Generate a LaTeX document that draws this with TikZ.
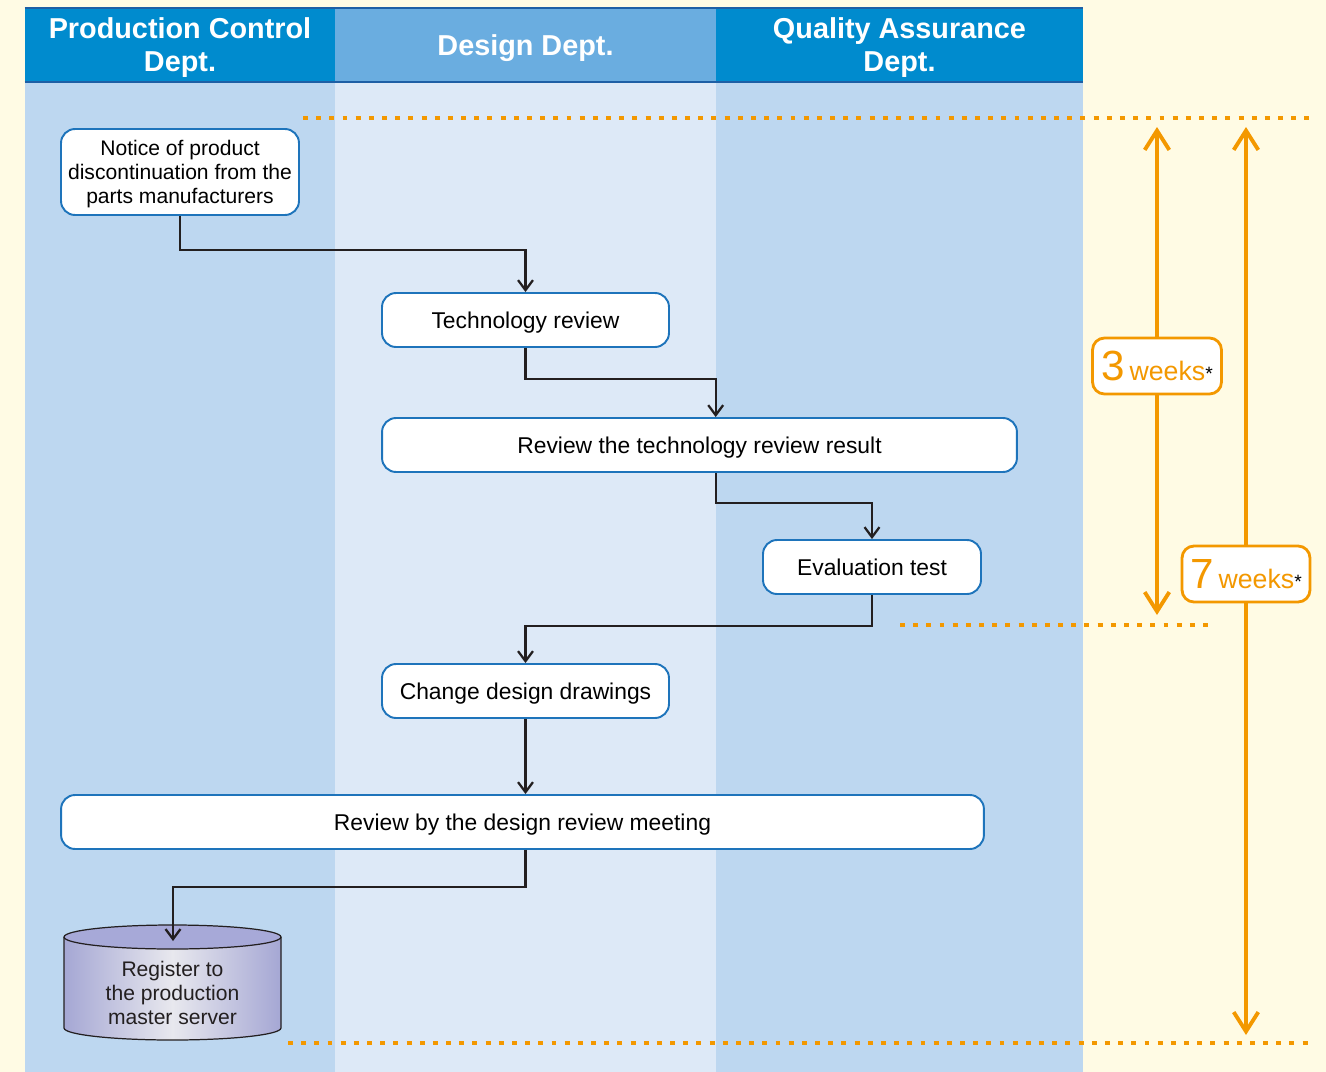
\documentclass[tikz,border=0pt]{standalone}
\usepackage{fontspec}
\setmainfont{Liberation Sans}
\usetikzlibrary{arrows.meta,calc}

\definecolor{bgcream}{HTML}{FFFBE4}
\definecolor{lanedark}{HTML}{BDD7F0}
\definecolor{lanelight}{HTML}{DDE9F7}
\definecolor{hddark}{HTML}{008BCE}
\definecolor{hdlight}{HTML}{6AADE0}
\definecolor{hdline}{HTML}{1E5FA5}
\definecolor{boxblue}{HTML}{1E74BB}
\definecolor{flowgray}{HTML}{231F20}
\definecolor{orangeline}{HTML}{F39800}
\definecolor{cylside}{HTML}{A5A7D4}
\definecolor{cyllight}{HTML}{E8E8EE}
\definecolor{cyltop}{HTML}{A7A9D8}

\tikzset{
  lanehead/.style={fill=#1, text=white, font=\bfseries\fontsize{16.4}{18.8}\selectfont,
    align=center, minimum height=1.48cm, inner sep=0pt, text depth=0pt},
  procbox/.style={draw=boxblue, line width=1.1pt, fill=white, rounded corners=0.28cm,
    font=\fontsize{13}{15.6}\selectfont, minimum height=1.08cm, inner sep=0pt, align=center,
    text depth=0pt},
  flow/.style={draw=flowgray, line width=1.3pt, -{Straight Barb[length=5.7pt,width=8.5pt]}},
  period/.style={draw=orangeline, line width=2.3pt, dash pattern=on 2.8pt off 4.7pt},
  weekarrow/.style={draw=orangeline, line width=2.2pt,
    {Straight Barb[length=11pt,width=14pt]}-{Straight Barb[length=11pt,width=14pt]}},
  weekbox/.style={draw=orangeline, line width=1.6pt, fill=white, rounded corners=0.24cm,
    text=orangeline, minimum height=1.12cm, inner sep=0pt}
}

\newcommand{\weeks}[1]{{\fontsize{24}{24}\selectfont #1}
  {\fontsize{15.2}{16}\selectfont weeks}{\color{black}\fontsize{11}{11}\selectfont *}}

\begin{document}
\begin{tikzpicture}[x=0.02cm, y=-0.02cm]

% page and lanes
\fill[bgcream] (0,0) rectangle (1326,1072);
\fill[lanedark] (25,82) rectangle (335,1072);
\fill[lanelight] (335,82) rectangle (716,1072);
\fill[lanedark] (716,82) rectangle (1083,1072);

\node[lanehead=hddark, minimum width=6.2cm] (hdProd) at (180,45) {Production Control\\Dept.};
\node[lanehead=hdlight, minimum width=7.62cm] (hdDes) at (525.5,45) {Design Dept.};
\node[lanehead=hddark, minimum width=7.34cm] (hdQA) at (899.5,45) {Quality Assurance\\Dept.};
\draw[hdline, line width=1.2pt] (hdProd.north west) -- (hdQA.north east);
\draw[hdline, line width=1.2pt] (hdProd.south west) -- (hdQA.south east);

% periods
\draw[period] (303,118) -- (1310,118);
\draw[period] (900,625) -- (1212,625);
\draw[period] (288,1043) -- (1310,1043);

\coordinate (w3top) at (1157,127);
\coordinate (w3bot) at (1157,615);
\coordinate (w7top) at (1246,127);
\coordinate (w7bot) at (1246,1035);
\draw[weekarrow] (w3top) -- (w3bot);
\draw[weekarrow] (w7top) -- (w7bot);
\node[weekbox, minimum width=2.58cm] (w3) at (1157,366) {\weeks{3}};
\node[weekbox, minimum width=2.56cm] (w7) at (1246,574) {\weeks{7}};

% steps
\node[procbox, minimum width=4.76cm, minimum height=1.72cm, font=\fontsize{12}{13.6}\selectfont]
  (notice) at (180,172) {Notice of product\\discontinuation from the\\parts manufacturers};
\node[procbox, minimum width=5.74cm] (tech) at (525.5,320) {Technology review};
\node[procbox, minimum width=12.7cm] (review) at (699.5,445) {Review the technology review result};
\node[procbox, minimum width=4.36cm] (eval) at (872,567) {Evaluation test};
\node[procbox, minimum width=5.74cm] (change) at (525.5,691) {Change design drawings};
\node[procbox, minimum width=18.46cm] (meeting) at (522.5,822) {Review by the design review meeting};

% server
\shade[left color=cylside, right color=cylside, middle color=cyllight]
  (64,937) -- (64,1028) arc[start angle=180, end angle=0, x radius=108.5, y radius=12] -- (281,937) -- cycle;
\draw[flowgray, line width=0.7pt]
  (64,937) -- (64,1028) arc[start angle=180, end angle=0, x radius=108.5, y radius=12] -- (281,937);
\filldraw[fill=cyltop, draw=flowgray, line width=0.7pt] (172.5,937) ellipse[x radius=108.5, y radius=12];
\node[font=\fontsize{12}{13.6}\selectfont, align=center, text=flowgray] (srv) at (172.5,993)
  {Register to\\the production\\master server};
\coordinate (srvtop) at (173,941);

% flow
\draw[flow] (notice.south) -- ++(0,34) -| (tech.north);
\draw[flow] (tech.south) -- ++(0,31) -| (review.north -| hdQA.west);
\draw[flow] (review.south -| hdQA.west) -- ++(0,30) -| (eval.north);
\draw[flow] (eval.south) -- ++(0,31) -| (change.north);
\draw[flow] (change.south) -- (change.south |- meeting.north);
\draw[flow] (meeting.south -| change.south) -- ++(0,37) -| (srvtop);

\end{tikzpicture}
\end{document}
